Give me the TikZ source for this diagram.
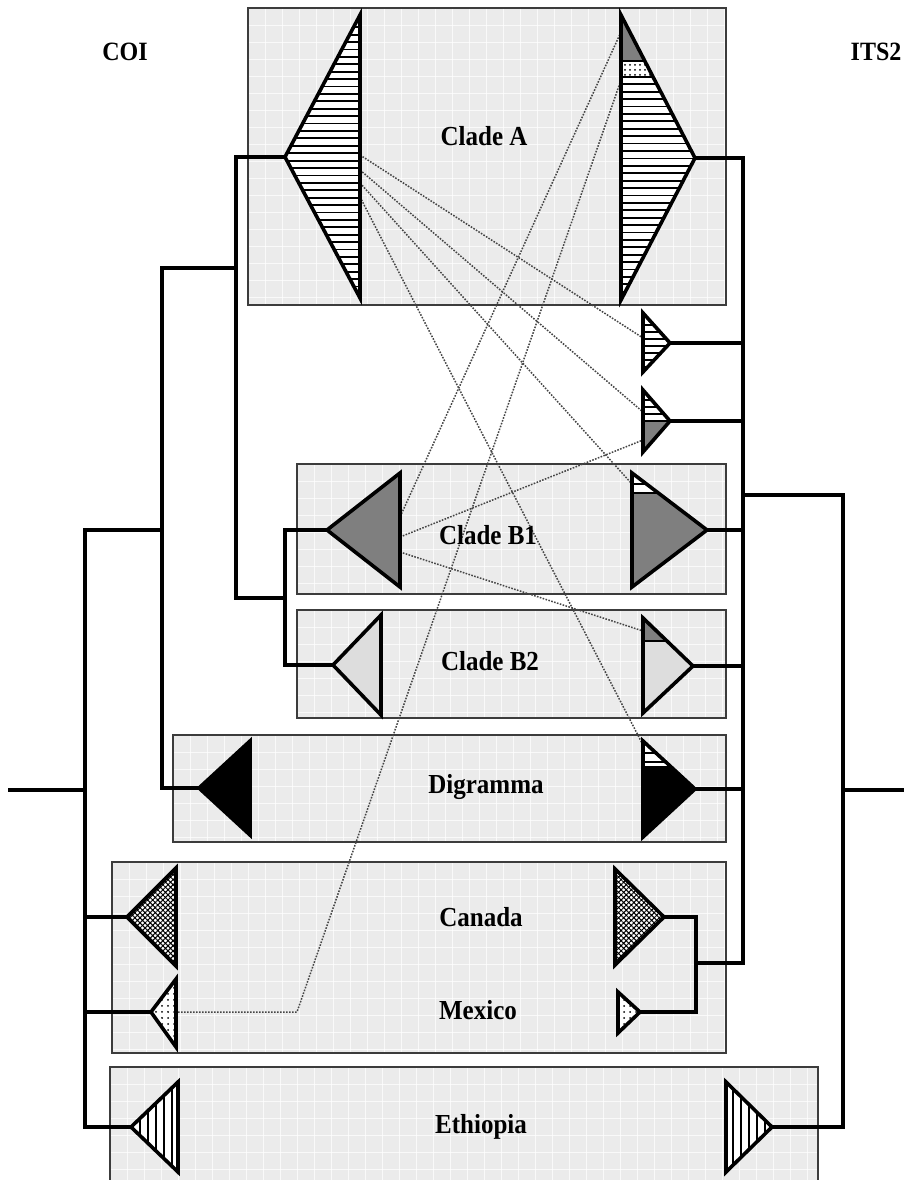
\documentclass[tikz,border=0pt]{standalone}
\usepackage{fontspec}
\setmainfont{Liberation Serif}
\usepackage{graphicx}
\usetikzlibrary{patterns.meta}

\definecolor{boxfill}{HTML}{EBEBEB}
\definecolor{boxline}{HTML}{3C3C3C}
\definecolor{darkfill}{HTML}{7F7F7F}
\definecolor{palefill}{HTML}{DDDDDD}
\definecolor{linkgray}{HTML}{454545}

% slightly tall bold labels
\newcommand{\tall}[1]{\scalebox{1}[1.1]{#1}}

\tikzset{
  tree/.style={line width=3.8pt, line cap=rect},
  tri/.style={line width=3.6pt, line join=miter, miter limit=10},
  stripe/.style={line width=1.8pt},
  divider/.style={line width=2.2pt},
  gridline/.style={white, line width=0.8pt, opacity=0.75},
  boxedge/.style={draw=boxline, line width=2pt},
  link/.style={draw=linkgray, line width=1.5pt, dash pattern=on 1.6pt off 1.4pt},
  lbl/.style={font=\fontsize{25}{25}\selectfont\bfseries, inner sep=0pt},
  head/.style={font=\fontsize{24}{24}\selectfont\bfseries, inner sep=0pt},
  hatchfill/.style={preaction={fill=white}, pattern={Hatch[angle=45,distance=3.6pt,line width=1pt]}},
  dotfill/.style={preaction={fill=white}, pattern={Dots[distance=6pt,radius=1pt]}},
}

\begin{document}
\begin{tikzpicture}[x=1pt, y=-1pt]
\useasboundingbox (0,0) rectangle (904,1180);
\clip (0,0) rectangle (904,1180);
\fill[white] (0,0) rectangle (904,1180);

% ---------- shaded clade boxes with a faint grid ----------
\foreach \bx/\by/\ex/\ey in {248/8/726/305, 297/464/726/594, 297/610/726/718,
                              173/735/726/842, 112/862/726/1053, 110/1067/818/1195}{
  \begin{scope}
    \clip (\bx,\by) rectangle (\ex,\ey);
    \fill[boxfill] (\bx,\by) rectangle (\ex,\ey);
    \foreach \g in {0,17,...,720}{
      \draw[gridline] (\bx+\g,\by) -- (\bx+\g,\ey);
      \draw[gridline] (\bx,\by+\g) -- (\ex,\by+\g);
    }
  \end{scope}
  \draw[boxedge] (\bx,\by) rectangle (\ex,\ey);
}

% ---------- triangle corners: t = tip, a = top, b = bottom ----------
% COI side (tips to the left)
\coordinate (aLt) at (285,157);  \coordinate (aLa) at (360,15);   \coordinate (aLb) at (360,298);
\coordinate (b1Lt) at (327,530); \coordinate (b1La) at (400,473); \coordinate (b1Lb) at (400,587);
\coordinate (b2Lt) at (333,665); \coordinate (b2La) at (381,615); \coordinate (b2Lb) at (381,715);
\coordinate (dgLt) at (199,788); \coordinate (dgLa) at (250,741); \coordinate (dgLb) at (250,835);
\coordinate (caLt) at (127,917); \coordinate (caLa) at (176,868); \coordinate (caLb) at (176,966);
\coordinate (mxLt) at (151,1012);\coordinate (mxLa) at (176,979); \coordinate (mxLb) at (176,1047);
\coordinate (etLt) at (131,1127);\coordinate (etLa) at (178,1082);\coordinate (etLb) at (178,1172);
% ITS2 side (tips to the right)
\coordinate (aRt) at (695,158);  \coordinate (aRa) at (621,15);   \coordinate (aRb) at (621,300);
\coordinate (s1Rt) at (670,343); \coordinate (s1Ra) at (643,313); \coordinate (s1Rb) at (643,372);
\coordinate (s2Rt) at (670,421); \coordinate (s2Ra) at (643,390); \coordinate (s2Rb) at (643,452);
\coordinate (b1Rt) at (707,530); \coordinate (b1Ra) at (632,473); \coordinate (b1Rb) at (632,587);
\coordinate (b2Rt) at (693,666); \coordinate (b2Ra) at (643,618); \coordinate (b2Rb) at (643,713);
\coordinate (dgRt) at (695,789); \coordinate (dgRa) at (643,741); \coordinate (dgRb) at (643,837);
\coordinate (caRt) at (664,917); \coordinate (caRa) at (615,869); \coordinate (caRb) at (615,965);
\coordinate (mxRt) at (640,1012);\coordinate (mxRa) at (618,992); \coordinate (mxRb) at (618,1033);
\coordinate (etRt) at (772,1127);\coordinate (etRa) at (726,1082);\coordinate (etRb) at (726,1172);

% ---------- tree junctions ----------
\coordinate (rootL) at (10,790);  \coordinate (nAll) at (85,790);
\coordinate (nABD) at (162,530);  \coordinate (nAB) at (236,268);
\coordinate (nB) at (285,598);
\coordinate (nR1) at (743,495);   \coordinate (nCM) at (696,963);
\coordinate (nRoot) at (843,790); \coordinate (rootR) at (904,790);

% COI tree
\draw[tree] (rootL) -- (nAll);
\draw[tree] (b1Lt) -| (nB) |- (b2Lt);
\draw[tree] (aLt) -| (nAB) |- (nB);
\draw[tree] (nAB) -| (nABD) |- (dgLt);
\draw[tree] (nABD) -| (nAll);
\draw[tree] (nAll) |- (caLt);
\draw[tree] (nAll) |- (mxLt);
\draw[tree] (nAll) |- (etLt);

% ITS2 tree
\draw[tree] (aRt) -| (nR1) |- (nCM);
\draw[tree] (s1Rt) -- (s1Rt -| nR1);
\draw[tree] (s2Rt) -- (s2Rt -| nR1);
\draw[tree] (b1Rt) -- (b1Rt -| nR1);
\draw[tree] (b2Rt) -- (b2Rt -| nR1);
\draw[tree] (dgRt) -- (dgRt -| nR1);
\draw[tree] (caRt) -| (nCM) |- (mxRt);
\draw[tree] (nR1) -| (nRoot) |- (etRt);
\draw[tree] (nRoot) -- (rootR);

% ---------- dotted links between the two trees ----------
\coordinate (aLp1) at (360,155); \coordinate (aLp2) at (360,170);
\coordinate (aLp3) at (360,183); \coordinate (aLp4) at (360,197);
\coordinate (aRp1) at (621,32);  \coordinate (aRp2) at (621,80);
\coordinate (b1Lp1) at (400,517);\coordinate (b1Lp2) at (400,537); \coordinate (b1Lp3) at (400,552);
\coordinate (s1Rp) at (643,338); \coordinate (s2Rp1) at (643,412); \coordinate (s2Rp2) at (643,440);
\coordinate (b1Rp) at (632,484); \coordinate (b2Rp) at (643,631);  \coordinate (dgRp) at (643,745);
\coordinate (mxLp) at (176,1012);\coordinate (bend) at (297,1012);

\draw[link] (aLp1) -- (s1Rp);
\draw[link] (aLp2) -- (s2Rp1);
\draw[link] (aLp3) -- (b1Rp);
\draw[link] (aLp4) -- (dgRp);
\draw[link] (aRp1) -- (b1Lp1);
\draw[link] (aRp2) -- (bend) -- (mxLp);
\draw[link] (b1Lp2) -- (s2Rp2);
\draw[link] (b1Lp3) -- (b2Rp);

% ---------- COI triangles ----------
\begin{scope}
  \clip (aLt) -- (aLa) -- (aLb) -- cycle;
  \fill[white] (280,10) rectangle (365,305);
  \foreach \y in {20,27.4,...,300} \draw[stripe] (280,\y) -- (365,\y);
\end{scope}
\draw[tri] (aLt) -- (aLa) -- (aLb) -- cycle;

\draw[tri, fill=darkfill] (b1Lt) -- (b1La) -- (b1Lb) -- cycle;
\draw[tri, fill=palefill] (b2Lt) -- (b2La) -- (b2Lb) -- cycle;
\draw[tri, fill=black] (dgLt) -- (dgLa) -- (dgLb) -- cycle;
\draw[tri, hatchfill] (caLt) -- (caLa) -- (caLb) -- cycle;
\draw[tri, dotfill] (mxLt) -- (mxLa) -- (mxLb) -- cycle;

\begin{scope}
  \clip (etLt) -- (etLa) -- (etLb) -- cycle;
  \fill[white] (125,1078) rectangle (182,1176);
  \foreach \x in {140,148,...,178} \draw[stripe] (\x,1078) -- (\x,1176);
\end{scope}
\draw[tri] (etLt) -- (etLa) -- (etLb) -- cycle;

% ---------- ITS2 triangles ----------
\begin{scope}
  \clip (aRt) -- (aRa) -- (aRb) -- cycle;
  \fill[darkfill] (615,8) rectangle (700,61);
  \fill[white] (615,61) rectangle (700,77);
  \fill[pattern={Dots[distance=5pt,radius=1pt]}] (615,61) rectangle (700,77);
  \fill[white] (615,77) rectangle (700,305);
  \draw[divider] (615,61) -- (700,61);
  \foreach \y in {77,84.4,...,300} \draw[stripe] (615,\y) -- (700,\y);
\end{scope}
\draw[tri] (aRt) -- (aRa) -- (aRb) -- cycle;

\begin{scope}
  \clip (s1Rt) -- (s1Ra) -- (s1Rb) -- cycle;
  \fill[white] (640,310) rectangle (675,375);
  \foreach \y in {325,332,...,370} \draw[stripe] (640,\y) -- (675,\y);
\end{scope}
\draw[tri] (s1Rt) -- (s1Ra) -- (s1Rb) -- cycle;

\begin{scope}
  \clip (s2Rt) -- (s2Ra) -- (s2Rb) -- cycle;
  \fill[white] (640,386) rectangle (675,421);
  \fill[darkfill] (640,421) rectangle (675,456);
  \foreach \y in {400,407,414} \draw[stripe] (640,\y) -- (675,\y);
  \draw[divider] (640,421) -- (675,421);
\end{scope}
\draw[tri] (s2Rt) -- (s2Ra) -- (s2Rb) -- cycle;

\begin{scope}
  \clip (b1Rt) -- (b1Ra) -- (b1Rb) -- cycle;
  \fill[white] (628,468) rectangle (712,493);
  \fill[darkfill] (628,493) rectangle (712,592);
  \draw[stripe] (628,484) -- (712,484);
  \draw[divider] (628,493) -- (712,493);
\end{scope}
\draw[tri] (b1Rt) -- (b1Ra) -- (b1Rb) -- cycle;

\begin{scope}
  \clip (b2Rt) -- (b2Ra) -- (b2Rb) -- cycle;
  \fill[darkfill] (640,612) rectangle (698,641);
  \fill[palefill] (640,641) rectangle (698,718);
  \draw[divider] (640,641) -- (698,641);
\end{scope}
\draw[tri] (b2Rt) -- (b2Ra) -- (b2Rb) -- cycle;

\begin{scope}
  \clip (dgRt) -- (dgRa) -- (dgRb) -- cycle;
  \fill[white] (640,736) rectangle (700,766);
  \fill[black] (640,766) rectangle (700,842);
  \draw[stripe] (640,753) -- (700,753);
  \draw[stripe] (640,762) -- (700,762);
\end{scope}
\draw[tri] (dgRt) -- (dgRa) -- (dgRb) -- cycle;

\draw[tri, hatchfill] (caRt) -- (caRa) -- (caRb) -- cycle;
\draw[tri, dotfill] (mxRt) -- (mxRa) -- (mxRb) -- cycle;

\begin{scope}
  \clip (etRt) -- (etRa) -- (etRb) -- cycle;
  \fill[white] (722,1078) rectangle (776,1176);
  \foreach \x in {733,741,...,772} \draw[stripe] (\x,1078) -- (\x,1176);
\end{scope}
\draw[tri] (etRt) -- (etRa) -- (etRb) -- cycle;

% ---------- labels ----------
\node[head] (hCOI) at (125,52) {\tall{COI}};
\node[head] (hITS) at (876,52) {\tall{ITS2}};
\node[lbl] (tA)  at (484,136)  {\tall{Clade A}};
\node[lbl] (tB1) at (488,535)  {\tall{Clade B1}};
\node[lbl] (tB2) at (490,661)  {\tall{Clade B2}};
\node[lbl] (tDg) at (486,787)  {\tall{Digramma}};
\node[lbl] (tCa) at (481,917)  {\tall{Canada}};
\node[lbl] (tMx) at (478,1010) {\tall{Mexico}};
\node[lbl] (tEt) at (481,1127) {\tall{Ethiopia}};
\end{tikzpicture}
\end{document}
